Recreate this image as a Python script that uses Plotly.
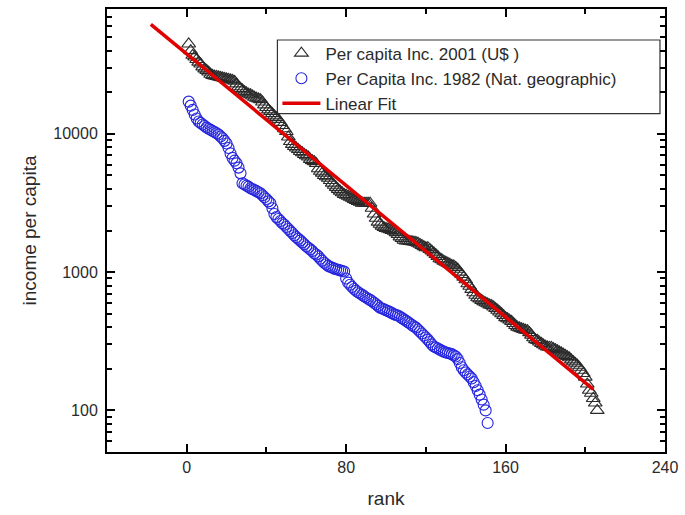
import plotly.graph_objects as go

# 2001 per-capita income (US$), ranks 1..206
inc_2001 = [
    44700, 40000, 37000, 36000, 34500, 33000, 32000, 30500, 29500, 28800,
    28000, 27000, 26500, 26200, 26000, 25800, 25600, 25400, 25200, 25000,
    24800, 24600, 24400, 24000, 23000, 21900, 21300, 20800, 20200, 19800,
    19400, 19200, 18800, 18400, 18100, 17900, 17700, 17000, 16200, 15500,
    14900, 14500, 14000, 13500, 13100, 12700, 12100, 11500, 10900, 10400,
    9500, 8800, 8400, 8100, 7900, 7700, 7460, 7300, 7100, 6950,
    6800, 6540, 6400, 6300, 6100, 5600, 5360, 5200, 5000, 4900,
    4770, 4600, 4400, 4250, 4100, 3970, 3850, 3750, 3650, 3600,
    3540, 3480, 3420, 3360, 3300, 3250, 3200, 3150, 3150, 3150,
    3150, 3150, 2900, 2630, 2450, 2300, 2220, 2150, 2100, 2070,
    2050, 2030, 2000, 1980, 1930, 1870, 1800, 1750, 1700, 1680,
    1680, 1670, 1660, 1650, 1640, 1620, 1590, 1560, 1530, 1500,
    1500, 1460, 1420, 1380, 1340, 1300, 1250, 1230, 1200, 1180,
    1160, 1140, 1120, 1110, 1080, 1050, 1000, 960, 920, 880,
    824, 790, 750, 710, 680, 653, 640, 625, 610, 600,
    590, 580, 573, 560, 545, 530, 515, 500, 485, 469,
    460, 450, 440, 425, 411, 400, 395, 390, 385, 380,
    378, 365, 350, 335, 325, 321, 312, 305, 298, 292,
    288, 286, 285, 280, 275, 270, 265, 260, 255, 250,
    245, 240, 232, 225, 219, 212, 205, 195, 185, 174,
    155, 140, 133, 122, 113, 100,
]
rank_2001 = list(range(1, len(inc_2001) + 1))

# 1982 per-capita income (National Geographic), ranks 1..151
inc_1982 = [
    17100, 16000, 14900, 13800, 12900, 12300, 12000, 11700, 11400, 11100,
    10900, 10700, 10500, 10300, 10100, 9900, 9570, 9300, 8900, 8520,
    7900, 7220, 6700, 6400, 6120, 5700, 5180, 4390, 4300, 4220,
    4150, 4040, 3980, 3920, 3850, 3780, 3720, 3600, 3480, 3380,
    3250, 3150, 2900, 2630, 2500, 2420, 2340, 2260, 2200, 2120,
    2050, 1980, 1920, 1850, 1790, 1740, 1690, 1640, 1590, 1540,
    1500, 1460, 1420, 1370, 1340, 1300, 1250, 1210, 1170, 1140,
    1110, 1090, 1080, 1060, 1050, 1040, 1030, 1020, 1010, 900,
    840, 810, 780, 755, 733, 715, 700, 685, 670, 655,
    642, 630, 615, 600, 585, 570, 553, 545, 538, 530,
    522, 515, 505, 495, 490, 485, 475, 465, 455, 445,
    435, 425, 415, 405, 397, 385, 372, 360, 348, 337,
    325, 312, 300, 290, 285, 280, 275, 270, 266, 262,
    260, 258, 255, 250, 245, 235, 220, 205, 195, 188,
    182, 176, 170, 160, 150, 140, 130, 120, 110, 100, 81,
]
rank_1982 = list(range(1, len(inc_1982) + 1))

# Linear fit (on log scale) end points
fit_rank = [-18, 204]
fit_value = [62000, 142]

x_major = [0, 80, 160, 240]
x_minor = [-40, 40, 120, 200]
y_major = [100, 1000, 10000]
y_minor = [m * d for d in (10, 100, 1000, 10000) for m in range(2, 10) if 50 <= m * d <= 80000]

FONT = "Arial, Liberation Sans, sans-serif"
TXT = "#2a2a2a"

fig = go.Figure()
fig.add_trace(go.Scatter(
    x=rank_2001, y=inc_2001, mode="markers", name="Per capita Inc. 2001 (U$ )",
    marker=dict(symbol="triangle-up-open", size=12, color="#2a2a2a", line=dict(width=1.1)),
))
fig.add_trace(go.Scatter(
    x=rank_1982, y=inc_1982, mode="markers", name="Per Capita Inc. 1982 (Nat. geographic)",
    marker=dict(symbol="circle-open", size=11, color="#2424e0", line=dict(width=1.1)),
))
fig.add_trace(go.Scatter(
    x=fit_rank, y=fit_value, mode="lines", name="Linear Fit",
    line=dict(color="#e00000", width=3.5),
))

axis_common = dict(
    showline=True, linecolor="black", linewidth=2, mirror="ticks",
    ticks="inside", ticklen=8, tickwidth=1.5, tickcolor="black",
    showgrid=False, zeroline=False,
    tickfont=dict(family=FONT, size=16, color=TXT),
)

# legend frame position (paper coords of the plotting area)
legend_box_x = [0.3054, 0.991]
legend_box_y = [0.764, 0.930]

fig.update_layout(
    width=685, height=515,
    margin=dict(l=107, r=18, t=7, b=63),
    paper_bgcolor="white", plot_bgcolor="white",
    font=dict(family=FONT, color=TXT),
    showlegend=True,
    legend=dict(
        x=0.3054, y=0.940, xanchor="left", yanchor="top",
        borderwidth=0, bgcolor="rgba(255,255,255,0)",
        font=dict(family=FONT, size=17, color=TXT),
        itemwidth=38, tracegroupgap=0,
    ),
    shapes=[dict(
        type="rect", xref="paper", yref="paper",
        x0=legend_box_x[0], x1=legend_box_x[1], y0=legend_box_y[0], y1=legend_box_y[1],
        line=dict(color="#333333", width=1.2), fillcolor="white", layer="below",
    )],
    xaxis=dict(
        axis_common, range=[-40, 240], tickvals=x_major,
        minor=dict(tickvals=x_minor, ticks="inside", ticklen=5, tickwidth=1.5, tickcolor="black"),
        title=dict(text="rank", font=dict(family=FONT, size=19, color=TXT), standoff=16),
    ),
    yaxis=dict(
        axis_common, type="log", range=[1.69897, 4.90309], tickvals=y_major,
        ticktext=[str(v) for v in y_major],
        minor=dict(tickvals=y_minor, ticks="inside", ticklen=5, tickwidth=1.5, tickcolor="black"),
        title=dict(text="income per capita", font=dict(family=FONT, size=19, color=TXT), standoff=12),
        ticklabelstandoff=4,
    ),
)

fig.write_html("out.html")
